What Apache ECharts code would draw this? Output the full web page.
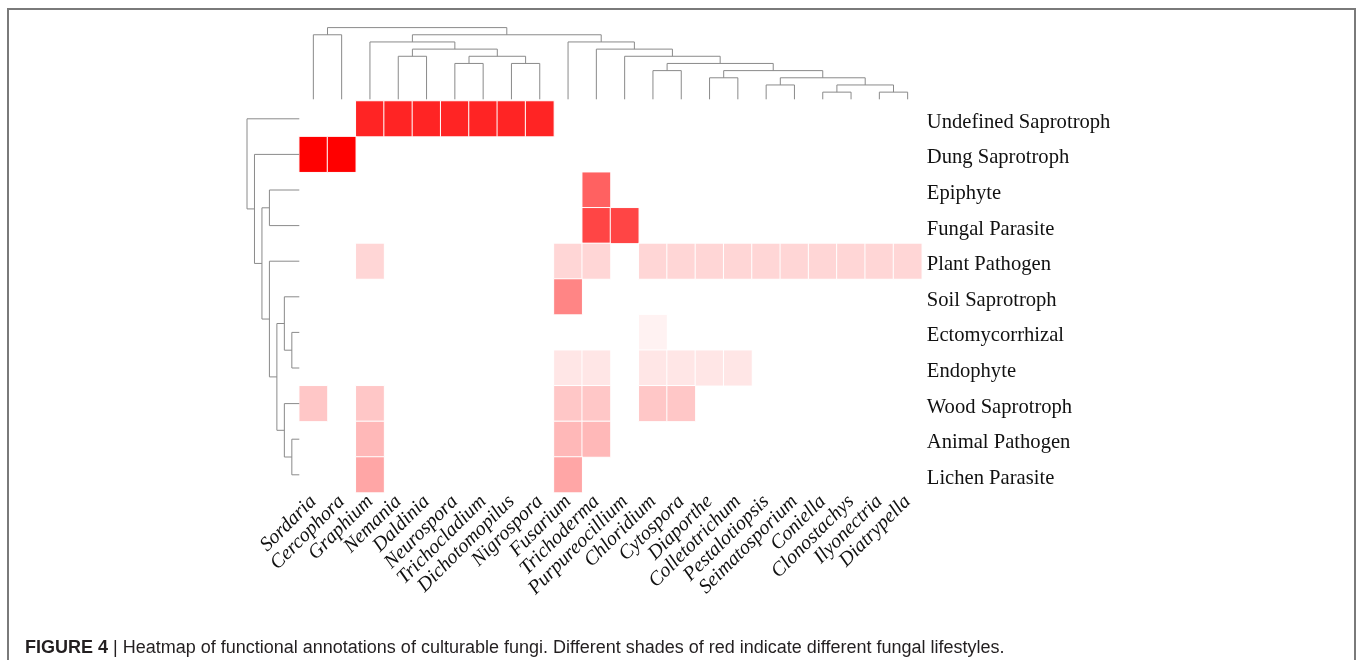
<!DOCTYPE html>
<html>
<head>
<meta charset="utf-8">
<title>Functional annotations of culturable fungi</title>
<script src="https://cdn.jsdelivr.net/npm/echarts@6/dist/echarts.min.js"></script>
<style>
  html, body { margin: 0; padding: 0; background: #ffffff; }
  #chart { width: 1360px; height: 660px; }
</style>
</head>
<body>
<div id="chart"></div>
<script>
// Genera (columns, in dendrogram order)
const genera = [
  'Sordaria', 'Cercophora', 'Graphium', 'Nemania', 'Daldinia', 'Neurospora',
  'Trichocladium', 'Dichotomopilus', 'Nigrospora', 'Fusarium', 'Trichoderma',
  'Purpureocillium', 'Chloridium', 'Cytospora', 'Diaporthe', 'Colletotrichum',
  'Pestalotiopsis', 'Seimatosporium', 'Coniella', 'Clonostachys', 'Ilyonectria',
  'Diatrypella'
];

// Functional groups (rows, top to bottom)
const lifestyles = [
  'Undefined Saprotroph', 'Dung Saprotroph', 'Epiphyte', 'Fungal Parasite',
  'Plant Pathogen', 'Soil Saprotroph', 'Ectomycorrhizal', 'Endophyte',
  'Wood Saprotroph', 'Animal Pathogen', 'Lichen Parasite'
];

// Shade level of each functional group (0 = white, 1 = full red)
const lifestyleShade = [0.86, 1.0, 0.62, 0.73, 0.16, 0.48, 0.05, 0.10, 0.22, 0.28, 0.35];

// Genera annotated with each functional group
const annotatedGenera = [
  ['Graphium', 'Nemania', 'Daldinia', 'Neurospora', 'Trichocladium', 'Dichotomopilus', 'Nigrospora'],
  ['Sordaria', 'Cercophora'],
  ['Trichoderma'],
  ['Trichoderma', 'Purpureocillium'],
  ['Graphium', 'Fusarium', 'Trichoderma', 'Chloridium', 'Cytospora', 'Diaporthe', 'Colletotrichum',
   'Pestalotiopsis', 'Seimatosporium', 'Coniella', 'Clonostachys', 'Ilyonectria', 'Diatrypella'],
  ['Fusarium'],
  ['Chloridium'],
  ['Fusarium', 'Trichoderma', 'Chloridium', 'Cytospora', 'Diaporthe', 'Colletotrichum'],
  ['Sordaria', 'Graphium', 'Fusarium', 'Trichoderma', 'Chloridium', 'Cytospora'],
  ['Graphium', 'Fusarium', 'Trichoderma'],
  ['Graphium', 'Fusarium']
];

// Clustering of genera: [mergeHeight, left, right]
const genusTree = [10,
  [9, 'Sordaria', 'Cercophora'],
  [9,
    [8, 'Graphium',
      [7,
        [6, 'Nemania', 'Daldinia'],
        [6, [5, 'Neurospora', 'Trichocladium'], [5, 'Dichotomopilus', 'Nigrospora']]]],
    [8, 'Fusarium',
      [7, 'Trichoderma',
        [6, 'Purpureocillium',
          [5,
            [4, 'Chloridium', 'Cytospora'],
            [4,
              [3, 'Diaporthe', 'Colletotrichum'],
              [3,
                [2, 'Pestalotiopsis', 'Seimatosporium'],
                [2, [1, 'Coniella', 'Clonostachys'], [1, 'Ilyonectria', 'Diatrypella']]]]]]]]]];

// Clustering of functional groups
const lifestyleTree = [7, 'Undefined Saprotroph',
  [6, 'Dung Saprotroph',
    [5,
      [4, 'Epiphyte', 'Fungal Parasite'],
      [4, 'Plant Pathogen',
        [3,
          [2, 'Soil Saprotroph', [1, 'Ectomycorrhizal', 'Endophyte']],
          [2, 'Wood Saprotroph', [1, 'Animal Pathogen', 'Lichen Parasite']]]]]]];

// Heatmap cells: [column, row, shade]
const cells = [];
annotatedGenera.forEach((list, row) => {
  list.forEach(g => cells.push([genera.indexOf(g), row, lifestyleShade[row]]));
});

// Turn a cluster tree into elbow segments [pos1, h1, pos2, h2]
function dendroSegments(tree, leaves) {
  const segs = [];
  function walk(node) {
    if (typeof node === 'string') return { pos: leaves.indexOf(node), h: 0 };
    const h = node[0];
    const a = walk(node[1]);
    const b = walk(node[2]);
    segs.push([a.pos, a.h, a.pos, h]);
    segs.push([b.pos, b.h, b.pos, h]);
    segs.push([a.pos, h, b.pos, h]);
    return { pos: (a.pos + b.pos) / 2, h: h };
  }
  walk(tree);
  return segs;
}

const topSegs = dendroSegments(genusTree, genera);
// left tree: x = height, y = row position
const leftSegs = dendroSegments(lifestyleTree, lifestyles).map(s => [s[1], s[0], s[3], s[2]]);

const lineColor = '#8a8a8a';
function elbowRender(params, api) {
  const p1 = api.coord([api.value(0), api.value(1)]);
  const p2 = api.coord([api.value(2), api.value(3)]);
  return {
    type: 'line',
    shape: { x1: p1[0], y1: p1[1], x2: p2[0], y2: p2[1] },
    style: { stroke: lineColor, lineWidth: 1 }
  };
}

const HM = { left: 299.2, top: 101, width: 622.6, height: 391.6 };

const chart = echarts.init(document.getElementById('chart'), null, { renderer: 'canvas' });
chart.setOption({
  animation: false,
  backgroundColor: '#ffffff',
  grid: [
    { left: HM.left, top: HM.top, width: HM.width, height: HM.height },
    { left: HM.left, top: 27.6, width: HM.width, height: 71.7 },
    { left: 247, top: HM.top, width: 52.3, height: HM.height }
  ],
  xAxis: [
    {
      type: 'category', gridIndex: 0, data: genera, position: 'bottom',
      axisLine: { show: false }, axisTick: { show: false }, splitLine: { show: false },
      axisLabel: {
        interval: 0, rotate: 45, margin: 6,
        fontFamily: 'Liberation Serif', fontStyle: 'italic', fontSize: 20, color: '#111'
      }
    },
    { type: 'value', gridIndex: 1, min: -0.5, max: 21.5, show: false },
    { type: 'value', gridIndex: 2, min: 0, max: 7, inverse: true, show: false }
  ],
  yAxis: [
    {
      type: 'category', gridIndex: 0, data: lifestyles, inverse: true, position: 'right',
      axisLine: { show: false }, axisTick: { show: false }, splitLine: { show: false },
      axisLabel: {
        margin: 5,
        formatter: v => '{t|' + v + '}',
        rich: {
          t: {
            padding: [7, 0, 0, 0],
            fontFamily: 'Liberation Serif', fontSize: 20.6, color: '#111'
          }
        }
      }
    },
    { type: 'value', gridIndex: 1, min: 0, max: 10, show: false },
    { type: 'value', gridIndex: 2, min: -0.5, max: 10.5, inverse: true, show: false }
  ],
  visualMap: {
    show: false, seriesIndex: 0, dimension: 2, min: 0, max: 1,
    inRange: { color: ['#ffffff', '#ff0000'] }
  },
  series: [
    {
      type: 'heatmap', xAxisIndex: 0, yAxisIndex: 0, data: cells,
      itemStyle: { borderColor: '#ffffff', borderWidth: 1 },
      emphasis: { disabled: true }
    },
    {
      type: 'custom', xAxisIndex: 1, yAxisIndex: 1, data: topSegs,
      encode: { x: [0, 2], y: [1, 3] }, renderItem: elbowRender, silent: true
    },
    {
      type: 'custom', xAxisIndex: 2, yAxisIndex: 2, data: leftSegs,
      encode: { x: [0, 2], y: [1, 3] }, renderItem: elbowRender, silent: true
    }
  ],
  graphic: [
    {
      type: 'rect', silent: true,
      shape: { x: 8, y: 9, width: 1347, height: 700 },
      style: { fill: 'none', stroke: '#7a7a7a', lineWidth: 2 }
    },
    {
      type: 'text', left: 25, top: 639,
      style: {
        text: '{b|FIGURE 4} | Heatmap of functional annotations of culturable fungi. Different shades of red indicate different fungal lifestyles.',
        fontFamily: 'Liberation Sans, Arial, sans-serif',
        fontSize: 18, fill: '#231f20',
        rich: {
          b: { fontFamily: 'Liberation Sans, Arial, sans-serif', fontSize: 18, fontWeight: 'bold', fill: '#231f20' }
        }
      }
    }
  ]
});
</script>
</body>
</html>
